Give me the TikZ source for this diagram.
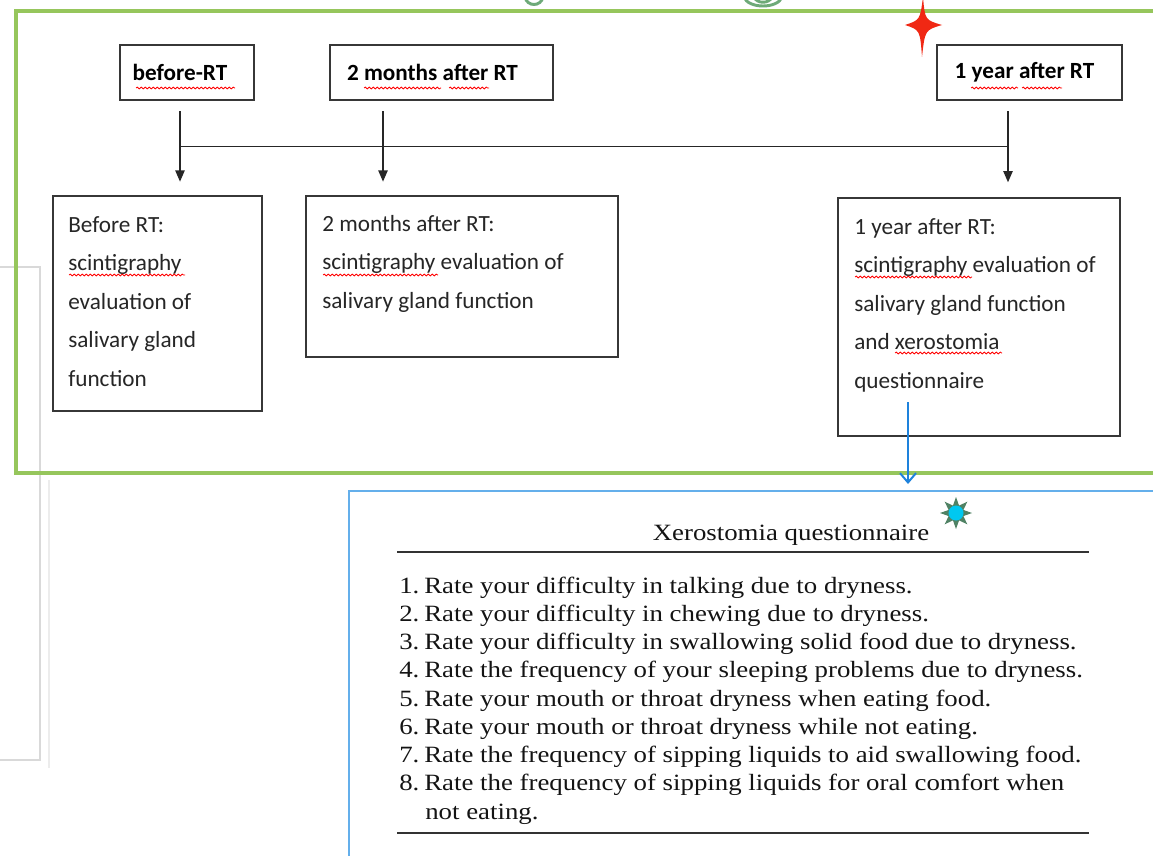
\documentclass[tikz,border=0pt]{standalone}
\usepackage{fontspec}
\usepackage{graphicx}
\usetikzlibrary{arrows.meta,decorations.pathmorphing}
\newfontfamily\calib{Carlito}
\newfontfamily\tms{Liberation Serif}
\definecolor{boxgray}{RGB}{55,55,55}
\definecolor{frameGreen}{RGB}{150,198,92}
\definecolor{fragGreen}{RGB}{110,170,120}
\definecolor{frameBlue}{RGB}{100,175,235}
\definecolor{arrowBlue}{RGB}{30,130,220}
\definecolor{starRed}{RGB}{240,40,20}
\definecolor{starGreen}{RGB}{80,130,100}
\definecolor{starCyan}{RGB}{0,200,240}
\tikzset{
  topbox/.style={draw=boxgray, line width=1.5pt, inner sep=0pt, minimum height=41.25pt,
    font=\calib\bfseries\fontsize{17.4}{20}\selectfont},
  botbox/.style={draw=boxgray, line width=1.5pt, inner sep=0pt},
  boxtext/.style={anchor=north west, inner sep=0pt, align=left,
    font=\calib\fontsize{17.4}{28.9}\selectfont, text=black!85},
  flow/.style={draw=black!85, line width=1.2pt},
  flowarrow/.style={flow, -{Triangle[length=8.5pt,width=7pt]}},
  bluearrow/.style={draw=arrowBlue, line width=1.5pt, -{Straight Barb[length=7pt,width=12pt]}},
  spell/.style={draw=red, line width=0.6pt, decorate,
    decoration={snake, amplitude=0.7pt, segment length=3pt}},
  qtext/.style={anchor=base west, inner sep=0pt, font=\tms\fontsize{17.5}{21}\selectfont, text=black!92},
  qrule/.style={draw=black!80, line width=1.9pt},
}
\begin{document}
\begin{tikzpicture}[x=0.75pt, y=-0.75pt]
\useasboundingbox (0,0) rectangle (1153,856);
\fill[white] (0,0) rectangle (1153,856);

% faint gray box on the left
\draw[gray!30, line width=0.8pt] (-5,267) -- (40,267) -- (40,760) -- (-5,760);
\draw[gray!15, line width=0.8pt] (49,480) -- (49,768);

% green frame and cut-off green glyphs
\draw[frameGreen, line width=2.3pt] (16,11) rectangle (1175,473);
\draw[fragGreen, line width=2.2pt] (525,-3) .. controls (527,7) and (541,7) .. (543,-3);
\draw[fragGreen, line width=2.2pt] (744,-3) .. controls (748,9) and (778,9) .. (782,-3);
\draw[fragGreen, line width=2.2pt] (754,-3) .. controls (757,4) and (769,4) .. (772,-3);

% red four-pointed star
\fill[starRed] (923,-3) .. controls (925,20) .. (942,25) .. controls (925,30) .. (922,57)
  .. controls (920,30) .. (905,25) .. controls (920,20) .. (923,-3) -- cycle;

% top boxes
\node[topbox, minimum width=100.5pt] (t1) at (187,72.5) {before-RT\hspace*{10.5pt}};
\node[topbox, minimum width=167.25pt] (t2) at (441.5,72.5) {2 months after RT\hspace*{13.5pt}};
\node[topbox, minimum width=138.75pt] (t3) at (1029.5,72.5) {1 year after RT\hspace*{7.5pt}};

% bottom boxes
\node[botbox, minimum width=156.75pt, minimum height=161.25pt] (b1) at (157.5,303.5) {};
\node[botbox, minimum width=234pt, minimum height=120.75pt] (b2) at (462,276.5) {};
\node[botbox, minimum width=211.5pt, minimum height=178.5pt] (b3) at (979,317) {};

\node[boxtext] (b1t) at (68,216) {Before RT:\\scintigraphy\\evaluation of\\salivary gland\\function};
\node[boxtext] (b2t) at (322,215) {2 months after RT:\\scintigraphy evaluation of\\salivary gland function};
\node[boxtext] (b3t) at (854,218) {1 year after RT:\\scintigraphy evaluation of\\salivary gland function\\and xerostomia\\questionnaire};

% connectors
\coordinate (j1) at (180,146.5);
\coordinate (j2) at (383,146.5);
\coordinate (j3) at (1008,146.5);
\draw[flowarrow, shorten <=7.5pt, shorten >=10pt] (t1.south -| j1) -- (b1.north -| j1);
\draw[flowarrow, shorten <=7.5pt, shorten >=10pt] (t2.south -| j2) -- (b2.north -| j2);
\draw[flowarrow, shorten <=7.5pt, shorten >=11pt] (t3.south -| j3) -- (b3.north -| j3);
\draw[flow] (j1) -- (j3);

% questionnaire frame
\node[draw=frameBlue, line width=1.5pt, anchor=north west, minimum width=630pt, minimum height=300pt, inner sep=0pt] (qframe) at (348,490) {};
\coordinate (qa) at (908,402);
\draw[bluearrow, shorten >=4.5pt] (qa) -- (qframe.north -| qa);

% cyan star
\begin{scope}[shift={(956,513)}]
\fill[starGreen] (0:16) \foreach \i in {1,...,15} { -- ({\i*22.5}:{mod(\i,2)==1 ? 8 : 16}) } -- cycle;
\fill[starCyan] (0,0) circle (7.5);
\end{scope}

% questionnaire contents
\node[anchor=base, inner sep=0pt, font=\tms\fontsize{17.5}{21}\selectfont, text=black!92] (qtitle) at (791,540) {\scalebox{1.15}[1]{Xerostomia questionnaire}};
\draw[qrule] (397,552) -- (1089,552);
\foreach \t [count=\i] in {
  Rate your difficulty in talking due to dryness.,
  Rate your difficulty in chewing due to dryness.,
  Rate your difficulty in swallowing solid food due to dryness.,
  Rate the frequency of your sleeping problems due to dryness.,
  Rate your mouth or throat dryness when eating food.,
  Rate your mouth or throat dryness while not eating.,
  Rate the frequency of sipping liquids to aid swallowing food.,
  Rate the frequency of sipping liquids for oral comfort when}
  { \node[qtext] (q\i) at (399,{593+28.25*(\i-1)}) {\scalebox{1.15}[1]{\makebox[16.3pt][l]{\i.}\t}}; }
\node[qtext] (q9) at (425,819) {\scalebox{1.15}[1]{not eating.}};
\draw[qrule] (397,833) -- (1089,833);

% spell-check underlines
\draw[spell] (136,88) -- (235,88);
\draw[spell] (364,88) -- (441,88);
\draw[spell] (449,88) -- (489,88);
\draw[spell] (971,88) -- (1018,88);
\draw[spell] (1022,88) -- (1062,88);
\draw[spell] (69,275) -- (185,275);
\draw[spell] (323,275) -- (438,275);
\draw[spell] (855,277) -- (972,277);
\draw[spell] (895,353) -- (1002,353);
\end{tikzpicture}
\end{document}
